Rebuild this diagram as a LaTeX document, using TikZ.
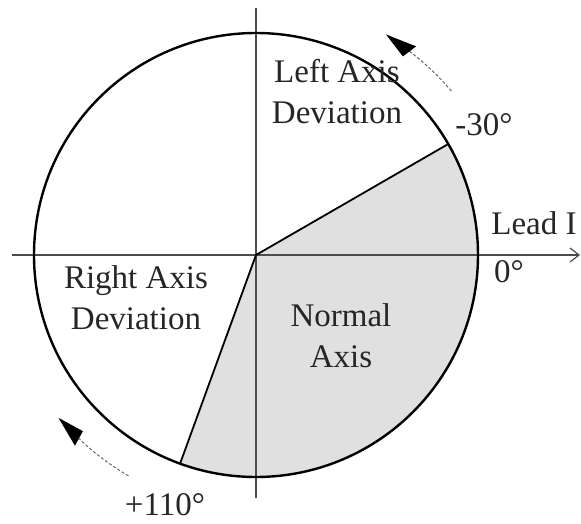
\documentclass[tikz,border=0pt]{standalone}
\usepackage{fontspec}
\setmainfont{Liberation Serif}
\usetikzlibrary{arrows.meta}
\begin{document}
\begin{tikzpicture}[x=1pt,y=1pt,
  lbl/.style={font=\fontsize{33}{41}\selectfont, align=center, inner sep=0pt, text=black!85},
  axisline/.style={line width=1.2pt, black!70},
  rimline/.style={line width=2.4pt, black},
  sectorline/.style={line width=1.8pt, black},
  turnline/.style={line width=1pt, black!60, densely dashed},
  turnhead/.style={fill=black, draw=none}]
\useasboundingbox (0,0) rectangle (581,-524);
\coordinate (C) at (256,-255);
\path (C) ++(30:222) coordinate (P30);
\path (C) ++(-110:222) coordinate (P110);
\fill[black!12] (C) -- (P110) arc[start angle=-110, end angle=30, radius=222] -- cycle;
\coordinate (Vtop) at (256,-8);
\coordinate (Vbot) at (256,-498);
\coordinate (Hl) at (12,-255);
\coordinate (Hr) at (580,-255);
\draw[axisline] (Vtop) -- (Vbot);
\draw[axisline, -{Straight Barb[length=9pt,width=14pt]}] (Hl) -- (Hr);
\draw[rimline] (C) circle[radius=222];
\draw[sectorline] (C) -- (P30);
\draw[sectorline] (C) -- (P110);
% upper turning arrow
\path (C) ++(40:255) coordinate (a1s);
\path (C) ++(54:255) coordinate (a1e);
\path (C) ++(59.5:256) coordinate (a1tip);
\path (C) ++(52.5:263) coordinate (a1l);
\path (C) ++(53.5:247) coordinate (a1r);
\draw[turnline] (a1s) arc[start angle=40, end angle=54, radius=255];
\fill[turnhead] (a1tip) -- (a1l) -- (a1r) -- cycle;
% lower turning arrow
\path (C) ++(-120:255) coordinate (a2s);
\path (C) ++(-135:255) coordinate (a2e);
\path (C) ++(-140.5:256) coordinate (a2tip);
\path (C) ++(-133.5:263) coordinate (a2l);
\path (C) ++(-134.5:247) coordinate (a2r);
\draw[turnline] (a2s) arc[start angle=-120, end angle=-135, radius=255];
\fill[turnhead] (a2tip) -- (a2l) -- (a2r) -- cycle;
\node[lbl] (lad) at (337,-92) {Left Axis\\Deviation};
\node[lbl] (m30) at (484,-125) {-30°};
\node[lbl] (lead) at (534,-223) {Lead I};
\node[lbl] (zero) at (509,-272) {0°};
\node[lbl] (rad) at (136,-298) {Right Axis\\Deviation};
\node[lbl] (norm) at (341,-336) {Normal\\Axis};
\node[lbl] (p110) at (165,-505) {+110°};
\end{tikzpicture}
\end{document}
